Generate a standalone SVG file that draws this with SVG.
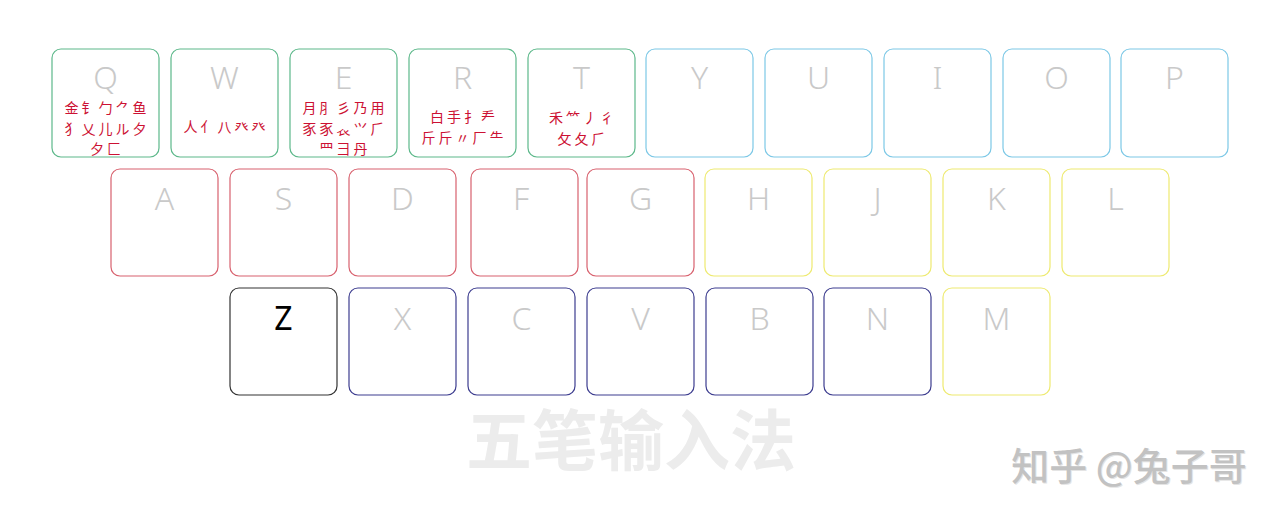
<svg xmlns="http://www.w3.org/2000/svg" width="1280" height="517" viewBox="0 0 1280 517">
<style>
.k{fill:#fff;stroke-width:1.2}
.g{stroke:#5cb88a}.b{stroke:#7cc8e6}.r{stroke:#d8616e}.y{stroke:#eeea70}.n{stroke:#3d3d8f}.z{stroke:#333}
.l{font-family:"Noto Sans","Liberation Sans",sans-serif;font-size:32px;font-weight:300;fill:#c9c9c9;text-anchor:middle}
.rad{font-family:"Noto Sans CJK SC","Noto Sans CJK JP",sans-serif;font-size:14px;fill:#cc1133;text-anchor:middle;letter-spacing:3px}
.t{font-family:"Noto Sans CJK SC",sans-serif;font-weight:bold;text-anchor:middle}
.wm{font-family:"Noto Sans CJK SC",sans-serif;font-weight:500;text-anchor:middle;font-size:38px}
</style>
<rect width="1280" height="517" fill="#fff"/>
<g id="key-Q"><rect class="k g" x="52" y="49" width="107" height="108" rx="9"/><text class="l" x="105.5" y="89">Q</text>
<text class="rad" x="107" y="113">金钅勹⺈鱼</text><text class="rad" x="107" y="133.5">犭乂儿ル夕</text><text class="rad" x="107" y="154">夕匚</text></g>
<g id="key-W"><rect class="k g" x="171" y="49" width="107" height="108" rx="9"/><text class="l" x="224.5" y="89">W</text>
<text class="rad" x="226" y="132">人亻八癶癶</text></g>
<g id="key-E"><rect class="k g" x="290" y="49" width="107" height="108" rx="9"/><text class="l" x="343.5" y="89">E</text>
<text class="rad" x="345" y="113">月⺼彡乃用</text><text class="rad" x="345" y="133.5">豕豕𧘇⺍⺁</text><text class="rad" x="345" y="154">⺲彐丹</text></g>
<g id="key-R"><rect class="k g" x="409" y="49" width="107" height="108" rx="9"/><text class="l" x="462.5" y="89">R</text>
<text class="rad" x="464" y="122">白手扌龵</text><text class="rad" x="464" y="142.5">斤斤〃厂⺧</text></g>
<g id="key-T"><rect class="k g" x="528" y="49" width="107" height="108" rx="9"/><text class="l" x="581.5" y="89">T</text>
<text class="rad" x="583" y="123">禾⺮丿彳</text><text class="rad" x="583" y="143.5">攵夂⺁</text></g>
<g id="key-Y"><rect class="k b" x="646" y="49" width="107" height="108" rx="9"/><text class="l" x="699.5" y="89">Y</text></g>
<g id="key-U"><rect class="k b" x="765" y="49" width="107" height="108" rx="9"/><text class="l" x="818.5" y="89">U</text></g>
<g id="key-I"><rect class="k b" x="884" y="49" width="107" height="108" rx="9"/><text class="l" x="937.5" y="89">I</text></g>
<g id="key-O"><rect class="k b" x="1003" y="49" width="107" height="108" rx="9"/><text class="l" x="1056.5" y="89">O</text></g>
<g id="key-P"><rect class="k b" x="1121" y="49" width="107" height="108" rx="9"/><text class="l" x="1174.5" y="89">P</text></g>
<g id="key-A"><rect class="k r" x="111" y="169" width="107" height="107" rx="9"/><text class="l" x="164.5" y="210">A</text></g>
<g id="key-S"><rect class="k r" x="230" y="169" width="107" height="107" rx="9"/><text class="l" x="283.5" y="210">S</text></g>
<g id="key-D"><rect class="k r" x="349" y="169" width="107" height="107" rx="9"/><text class="l" x="402.5" y="210">D</text></g>
<g id="key-F"><rect class="k r" x="471" y="169" width="107" height="107" rx="9"/><text class="l" x="521" y="210">F</text></g>
<g id="key-G"><rect class="k r" x="587" y="169" width="107" height="107" rx="9"/><text class="l" x="640.5" y="210">G</text></g>
<g id="key-H"><rect class="k y" x="705" y="169" width="107" height="107" rx="9"/><text class="l" x="758.5" y="210">H</text></g>
<g id="key-J"><rect class="k y" x="824" y="169" width="107" height="107" rx="9"/><text class="l" x="877.5" y="210">J</text></g>
<g id="key-K"><rect class="k y" x="943" y="169" width="107" height="107" rx="9"/><text class="l" x="996.5" y="210">K</text></g>
<g id="key-L"><rect class="k y" x="1062" y="169" width="107" height="107" rx="9"/><text class="l" x="1115.5" y="210">L</text></g>
<g id="key-Z"><rect class="k z" x="230" y="288" width="107" height="107" rx="9"/><text class="l" x="283.5" y="330" style="fill:#000;font-weight:400">Z</text></g>
<g id="key-X"><rect class="k n" x="349" y="288" width="107" height="107" rx="9"/><text class="l" x="402.5" y="330">X</text></g>
<g id="key-C"><rect class="k n" x="468" y="288" width="107" height="107" rx="9"/><text class="l" x="521.5" y="330">C</text></g>
<g id="key-V"><rect class="k n" x="587" y="288" width="107" height="107" rx="9"/><text class="l" x="640.5" y="330">V</text></g>
<g id="key-B"><rect class="k n" x="706" y="288" width="107" height="107" rx="9"/><text class="l" x="759.5" y="330">B</text></g>
<g id="key-N"><rect class="k n" x="824" y="288" width="107" height="107" rx="9"/><text class="l" x="877.5" y="330">N</text></g>
<g id="key-M"><rect class="k y" x="943" y="288" width="107" height="107" rx="9"/><text class="l" x="996.5" y="330">M</text></g>
<g id="connectors"></g>
<text class="t" x="631" y="465" font-size="66" fill="#ececec">五笔输入法</text>
<text class="wm" x="1130" y="481" fill="#e4e4e4">知乎 @兔子哥</text>
<text class="wm" x="1129" y="480" fill="#c2c2c2">知乎 @兔子哥</text>
</svg>
